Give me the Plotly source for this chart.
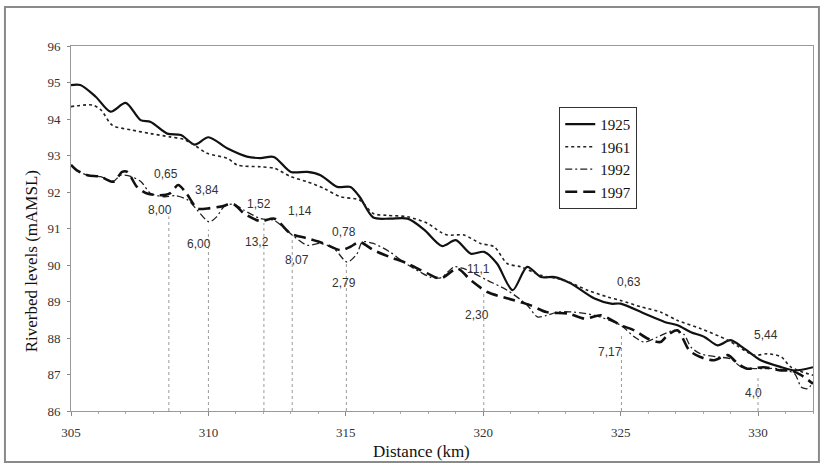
import plotly.graph_objects as go

# ---------------- data ----------------
dist_1925 = [305.0, 305.34, 305.9, 306.44, 306.99, 307.53, 307.9, 308.5, 309.0, 309.5, 310.0, 310.7,
             311.4, 311.9, 312.38, 313.0, 313.6, 314.08, 314.69, 315.17, 315.5, 316.0, 316.6, 317.25,
             317.85, 318.5, 319.0, 319.55, 320.03, 320.5, 321.07, 321.6, 322.1, 322.6, 323.2, 324.05,
             324.65, 325.0, 325.86, 326.6, 327.07, 327.56, 328.05, 328.53, 329.0, 329.5, 330.1, 330.85,
             331.33, 332.0]
lvl_1925 = [94.93, 94.93, 94.61, 94.2, 94.44, 93.97, 93.92, 93.6, 93.56, 93.3, 93.5, 93.19,
            92.97, 92.93, 92.96, 92.55, 92.55, 92.46, 92.14, 92.14, 91.87, 91.3, 91.27, 91.27,
            90.97, 90.52, 90.68, 90.31, 90.36, 90.04, 89.31, 89.95, 89.67, 89.67, 89.49, 89.08,
            88.94, 88.94, 88.67, 88.44, 88.35, 88.16, 88.03, 87.8, 87.94, 87.71, 87.39, 87.2,
            87.11, 87.2]

dist_1961 = [305.0, 305.8, 306.1, 306.5, 307.2, 307.9, 308.6, 309.1, 309.5, 309.95, 310.7, 311.05,
             311.9, 312.4, 313.0, 313.6, 314.2, 314.8, 315.5, 316.0, 316.5, 317.25, 317.97, 318.45,
             318.7, 319.3, 319.9, 320.4, 320.87, 321.36, 322.1, 322.95, 323.8, 324.54, 325.0, 325.75,
             326.45, 327.07, 327.9, 328.9, 329.86, 330.35, 330.85, 331.2, 332.0]
lvl_1961 = [94.34, 94.38, 94.24, 93.83, 93.7, 93.6, 93.51, 93.44, 93.28, 93.06, 92.92, 92.74,
            92.69, 92.65, 92.42, 92.28, 92.1, 91.87, 91.78, 91.41, 91.36, 91.32, 91.14, 90.9,
            90.82, 90.82, 90.59, 90.5, 90.04, 89.95, 89.72, 89.58, 89.31, 89.12, 89.03, 88.85,
            88.71, 88.48, 88.26, 87.94, 87.53, 87.57, 87.48, 87.2, 86.98]

dist_1992 = [305.0, 305.2, 305.6, 306.07, 306.55, 306.8, 307.2, 307.55, 307.9, 308.4, 308.8, 309.25,
             309.6, 310.03, 310.3, 310.57, 310.9, 311.3, 311.9, 312.4, 313.13, 313.6, 314.08, 314.57,
             315.05, 315.4, 315.6, 316.0, 316.6, 317.1, 317.7, 318.07, 318.45, 318.95, 319.3, 320.15,
             320.87, 321.6, 321.97, 322.3, 322.7, 323.3, 324.05, 325.0, 325.5, 325.86, 326.35, 326.96,
             327.3, 327.56, 327.9, 328.53, 329.0, 329.4, 330.0, 330.7, 331.33, 331.57, 331.8, 332.0]
lvl_1992 = [92.74, 92.6, 92.46, 92.42, 92.3, 92.46, 92.42, 92.28, 91.96, 91.87, 91.9, 91.78,
            91.5, 91.18, 91.32, 91.6, 91.67, 91.5, 91.27, 91.22, 90.77, 90.54, 90.59, 90.45,
            90.08, 90.3, 90.63, 90.59, 90.36, 90.08, 89.81, 89.67, 89.65, 89.95, 89.9, 89.58,
            89.31, 88.9, 88.58, 88.62, 88.71, 88.71, 88.62, 88.35, 88.03, 87.89, 88.03, 88.21,
            88.1, 87.75, 87.57, 87.48, 87.43, 87.2, 87.16, 87.16, 87.02, 86.66, 86.61, 86.79]

dist_1997 = [305.0, 305.2, 305.6, 306.07, 306.55, 306.86, 307.05, 307.4, 307.77, 308.25, 308.6, 308.9,
             309.2, 309.6, 309.97, 310.45, 310.9, 311.3, 311.9, 312.4, 313.0, 313.6, 314.2, 314.8,
             315.17, 315.5, 316.0, 316.6, 317.25, 317.97, 318.45, 319.06, 319.55, 320.15, 320.9, 321.7,
             322.3, 323.1, 323.7, 324.3, 325.0, 325.5, 326.0, 326.45, 326.7, 327.07, 327.5, 327.9,
             328.4, 328.9, 329.26, 329.6, 330.2, 330.85, 331.2, 331.57, 332.0]
lvl_1997 = [92.74, 92.6, 92.46, 92.42, 92.28, 92.55, 92.55, 92.14, 91.96, 91.91, 91.96, 92.19,
            91.96, 91.55, 91.55, 91.6, 91.67, 91.41, 91.2, 91.27, 90.86, 90.73, 90.59, 90.41,
            90.5, 90.63, 90.41, 90.22, 90.04, 89.77, 89.63, 89.9, 89.58, 89.26, 89.08, 88.9,
            88.71, 88.67, 88.53, 88.62, 88.35, 88.21, 87.98, 87.89, 88.07, 88.21, 87.66, 87.48,
            87.39, 87.53, 87.3, 87.16, 87.2, 87.11, 87.11, 86.98, 86.75]

# vertical reference (drop) lines
drop_x = [308.56, 310.0, 312.02, 313.05, 315.02, 320.02, 325.03, 330.0]
drop_top = [91.33, 90.97, 91.15, 90.69, 90.05, 89.28, 88.06, 86.94]
drop_base = 86.0

# value labels
label_text = ["0,65", "3,84", "8,00", "6,00", "1,52", "13,2", "1,14", "8,07",
              "0,78", "2,79", "11,1", "2,30", "0,63", "7,17", "5,44", "4,0"]
label_x = [308.44, 309.95, 308.24, 309.66, 311.83, 311.78, 313.35, 313.23,
           314.95, 314.95, 319.82, 319.76, 325.3, 324.61, 330.29, 329.84]
label_y = [92.48, 92.06, 91.50, 90.58, 91.67, 90.62, 91.47, 90.14,
           90.91, 89.52, 89.88, 88.64, 89.54, 87.61, 88.09, 86.48]

x_ticks = [305, 310, 315, 320, 325, 330]
y_ticks = [86, 87, 88, 89, 90, 91, 92, 93, 94, 95, 96]

SERIF = "Liberation Serif, Times New Roman, serif"
SANS = "Liberation Sans, Arial, sans-serif"

fig = go.Figure()

# drop lines
for dx, dt in zip(drop_x, drop_top):
    fig.add_trace(go.Scatter(x=[dx, dx], y=[drop_base, dt], mode="lines",
                             line=dict(color="#9a9a9a", width=1, dash="dot"),
                             showlegend=False, hoverinfo="skip"))

fig.add_trace(go.Scatter(x=dist_1925, y=lvl_1925, mode="lines", name="1925",
                         line=dict(color="#111", width=2.2, shape="spline", smoothing=0.8)))
fig.add_trace(go.Scatter(x=dist_1961, y=lvl_1961, mode="lines", name="1961",
                         line=dict(color="#222", width=1.6, dash="dot", shape="spline", smoothing=0.8)))
fig.add_trace(go.Scatter(x=dist_1992, y=lvl_1992, mode="lines", name="1992",
                         line=dict(color="#222", width=1.3, dash="7px,3px,2px,3px",
                                   shape="spline", smoothing=0.8)))
fig.add_trace(go.Scatter(x=dist_1997, y=lvl_1997, mode="lines", name="1997",
                         line=dict(color="#111", width=2.6, dash="12px,6px",
                                   shape="spline", smoothing=0.8)))

for t, lx, ly in zip(label_text, label_x, label_y):
    fig.add_annotation(x=lx, y=ly, text=t, showarrow=False,
                       font=dict(family=SANS, size=12, color="#333"))

# axis titles
fig.add_annotation(xref="paper", yref="paper", x=0.473, y=-0.112, text="Distance (km)",
                   xanchor="center", yanchor="middle",
                   showarrow=False, font=dict(family=SERIF, size=17, color="#111"))
fig.add_annotation(xref="paper", yref="paper", x=-0.054, y=0.41, text="Riverbed levels (mAMSL)",
                   xanchor="center", yanchor="middle",
                   textangle=-90, showarrow=False, font=dict(family=SERIF, size=17, color="#111"))

# outer frame
fig.add_shape(type="rect", xref="paper", yref="paper", x0=-0.089, x1=1.008, y0=-0.14, y1=1.107,
              line=dict(color="#8a8a8a", width=2), layer="below")

fig.update_layout(
    width=822, height=467,
    margin=dict(l=71, r=9, t=46, b=56),
    paper_bgcolor="white", plot_bgcolor="white",
    showlegend=True,
    legend=dict(x=0.658, y=0.833, xanchor="left", yanchor="top",
                bordercolor="#333", borderwidth=1, bgcolor="white",
                font=dict(family=SERIF, size=15, color="#111"),
                tracegroupgap=0, itemwidth=30),
    xaxis=dict(range=[305, 332], tickvals=x_ticks, ticks="outside", ticklen=4,
               tickcolor="#888", showgrid=False, zeroline=False,
               showline=True, linecolor="#999", linewidth=1, mirror=True,
               tickfont=dict(family=SERIF, size=13, color="#333"),
               ticklabelstandoff=5,
               minor=dict(dtick=1, ticks="outside", ticklen=2, tickcolor="#aaa")),
    yaxis=dict(range=[86, 96], tickvals=y_ticks, ticks="outside", ticklen=3,
               tickcolor="#888", showgrid=False, zeroline=False,
               showline=True, linecolor="#999", linewidth=1, mirror=True,
               tickfont=dict(family=SERIF, size=13, color="#333"),
               ticklabelstandoff=4),
)

fig.write_html("out.html")
